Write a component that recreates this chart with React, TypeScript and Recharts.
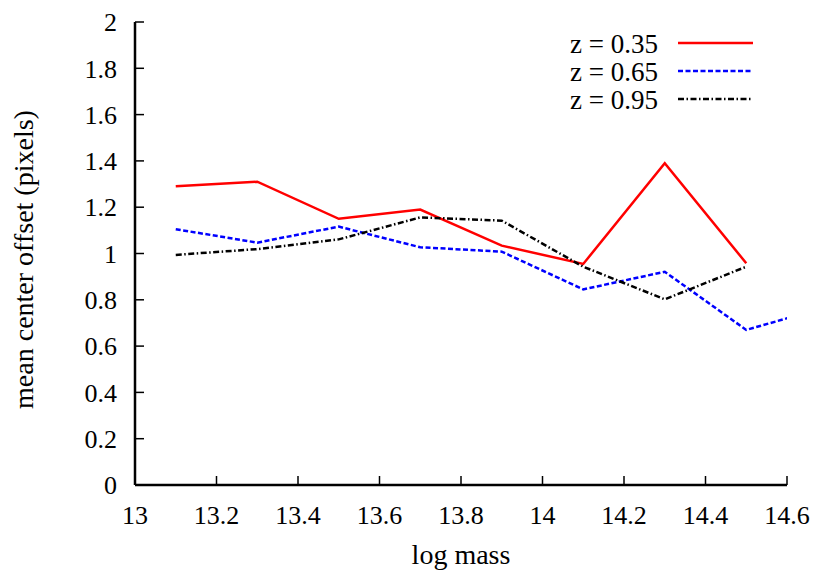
import React from 'react';
import { LineChart, Line, XAxis, YAxis, Legend, Label } from 'recharts';

const massBins = [13.1, 13.3, 13.5, 13.7, 13.9, 14.1, 14.3, 14.5, 14.7];
const offsetZ035 = [1.29, 1.31, 1.15, 1.19, 1.034, 0.955, 1.39, 0.958, null];
const offsetZ065 = [1.105, 1.047, 1.116, 1.027, 1.008, 0.845, 0.921, 0.67, 0.77];
const offsetZ095 = [0.994, 1.019, 1.061, 1.156, 1.142, 0.943, 0.802, 0.943, null];

const xTicks = [13, 13.2, 13.4, 13.6, 13.8, 14, 14.2, 14.4, 14.6];
const yTicks = [0, 0.2, 0.4, 0.6, 0.8, 1, 1.2, 1.4, 1.6, 1.8, 2];

const seriesNames = ['z = 0.35', 'z = 0.65', 'z = 0.95'];
const seriesKeys = ['z035', 'z065', 'z095'];
const seriesColors = ['#ff0000', '#0000ff', '#000000'];
const seriesDashes = [undefined, '5 2.5', '6 2.5 1.5 2.5'];

const data = massBins.map((m, i) => ({
  mass: m,
  z035: offsetZ035[i],
  z065: offsetZ065[i],
  z095: offsetZ095[i],
}));

const FONT = 'Liberation Serif';
const FS = 26;
const FS_LEG = 27;
const FS_LAB = 28;

const tickStyle = { fontSize: FS, fill: '#000', fontFamily: FONT };
const axisLine = { stroke: '#000', strokeWidth: 2.5 };
const tickLine = { stroke: '#000', strokeWidth: 1.5 };

const fmt = (v: number) => String(Number(v.toFixed(1)));

const renderLegend = () => (
  <svg width={230} height={100} style={{ display: 'block', overflow: 'visible' }}>
    {seriesNames.map((name, i) => (
      <g key={name}>
        <text
          x={118}
          y={28 + i * 28}
          textAnchor="end"
          style={{ fontFamily: FONT, fontSize: FS_LEG }}
          fill="#000"
        >
          {name}
        </text>
        <line
          x1={138}
          x2={213}
          y1={18 + i * 28}
          y2={18 + i * 28}
          stroke={seriesColors[i]}
          strokeWidth={2.5}
          strokeDasharray={seriesDashes[i]}
        />
      </g>
    ))}
  </svg>
);

const renderYLabel = (props: any) => {
  const vb = props.viewBox || { x: 0, y: 22, width: 135, height: 463 };
  const cx = vb.x + 33;
  const cy = vb.y + vb.height / 2 + 6;
  return (
    <text
      x={cx}
      y={cy}
      transform={`rotate(-90 ${cx} ${cy})`}
      textAnchor="middle"
      style={{ fontFamily: FONT, fontSize: FS_LAB }}
      fill="#000"
    >
      mean center offset (pixels)
    </text>
  );
};

export default function App() {
  return (
    <div style={{ position: 'absolute', left: 0, top: 0, width: 830, height: 574, background: '#fff', fontFamily: FONT }}>
      <LineChart
        width={830}
        height={574}
        data={data}
        margin={{ top: 22, right: 43, bottom: 0, left: 0 }}
        style={{ fontFamily: FONT }}
      >
        <XAxis
          dataKey="mass"
          type="number"
          domain={[13, 14.6]}
          ticks={xTicks}
          allowDataOverflow
          height={89}
          tickSize={-9}
          tickMargin={30}
          tick={tickStyle}
          tickFormatter={fmt}
          axisLine={axisLine}
          tickLine={tickLine}
        >
          <Label value="log mass" position="insideBottom" offset={10} fontFamily={FONT} fontSize={FS_LAB} fill="#000" />
        </XAxis>
        <XAxis
          xAxisId="top"
          orientation="top"
          dataKey="mass"
          type="number"
          domain={[13, 14.6]}
          ticks={xTicks}
          allowDataOverflow
          height={0}
          tickSize={-9}
          tick={false}
          axisLine={axisLine}
          tickLine={tickLine}
        />
        <YAxis
          type="number"
          domain={[0, 2]}
          ticks={yTicks}
          allowDataOverflow
          width={135}
          tickSize={-9}
          tickMargin={27}
          tick={tickStyle}
          tickFormatter={fmt}
          axisLine={axisLine}
          tickLine={tickLine}
        >
          <Label content={renderYLabel} />
        </YAxis>
        <YAxis
          yAxisId="right"
          orientation="right"
          type="number"
          domain={[0, 2]}
          ticks={yTicks}
          allowDataOverflow
          width={0}
          tickSize={-9}
          tick={false}
          axisLine={axisLine}
          tickLine={tickLine}
        />
        <Legend
          content={renderLegend}
          verticalAlign="middle"
          layout="horizontal"
          wrapperStyle={{ position: 'absolute', left: 540, top: 25, width: 230, height: 0, overflow: 'visible' }}
        />
        {seriesKeys.map((k, i) => (
          <Line
            key={k}
            dataKey={k}
            name={seriesNames[i]}
            type="linear"
            stroke={seriesColors[i]}
            strokeWidth={2.5}
            strokeDasharray={seriesDashes[i]}
            dot={false}
            activeDot={false}
            isAnimationActive={false}
          />
        ))}
      </LineChart>
    </div>
  );
}
